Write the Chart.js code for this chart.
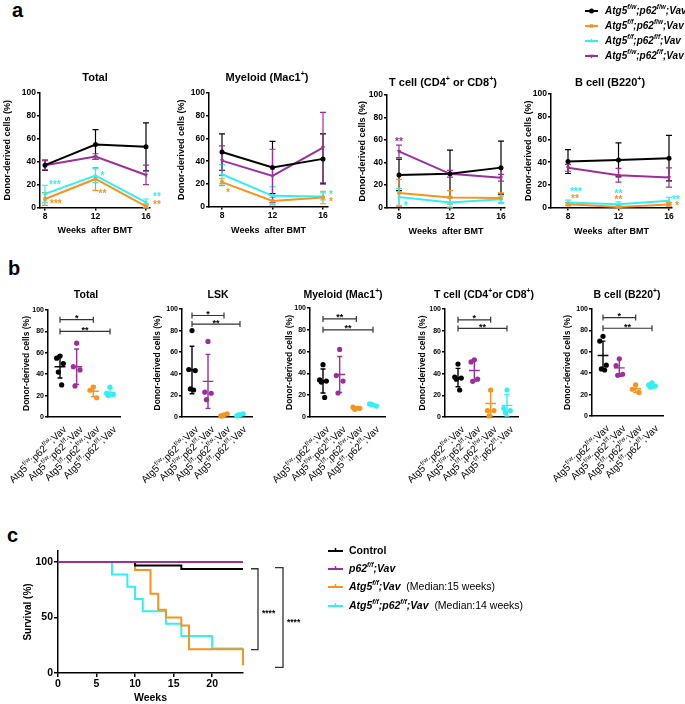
<!DOCTYPE html>
<html>
<head>
<meta charset="utf-8">
<script src="https://cdn.jsdelivr.net/npm/chart.js@4.4.0/dist/chart.umd.min.js"></script>
<style>
  body { margin: 0; background: #fff; }
  #fig { position: relative; width: 685px; height: 704px; overflow: hidden; font-family: 'Liberation Sans', Arial, sans-serif; }
  #fig canvas { position: absolute; }
  .panel { position: absolute; font-weight: bold; font-size: 20px; line-height: 20px; }
</style>
</head>
<body>
<div id="fig">
  <div class="panel" style="left:12px;top:0px">a</div>
  <div class="panel" style="left:8px;top:258px">b</div>
  <div class="panel" style="left:7px;top:525px">c</div>
</div>
<script>
// ---------- panel a : donor chimerism over time (mean, SD) ----------
const weeks = [8, 12, 16];
const aYTicks = [0, 20, 40, 60, 80, 100];

const aTotalCtrl = [37, 55, 53];     const aTotalCtrlSd = [4.5, 13, 21];
const aTotalAtg5 = [7.5, 25, 1];     const aTotalAtg5Sd = [5.5, 10, 2];
const aTotalDko  = [12, 28, 4.5];    const aTotalDkoSd  = [7.5, 6, 3];
const aTotalP62  = [37, 44.5, 28.5]; const aTotalP62Sd  = [4, 2.5, 8.5];

const aMyeCtrl = [48, 34.5, 42];   const aMyeCtrlSd = [16, 23, 22];
const aMyeAtg5 = [21.5, 5, 8];     const aMyeAtg5Sd = [3, 3, 5.5];
const aMyeDko  = [28.5, 9.5, 9];   const aMyeDkoSd  = [8.5, 8, 3];
const aMyeP62  = [40.5, 27, 52];   const aMyeP62Sd  = [13, 23.5, 31];

const aTCtrl = [29, 30, 35.5];     const aTCtrlSd = [14, 21, 23.5];
const aTAtg5 = [13, 9, 8.5];       const aTAtg5Sd = [12, 6, 4.5];
const aTDko  = [9.5, 4.5, 7.5];    const aTDkoSd  = [7.5, 4, 3];
const aTP62  = [50, 30, 26.5];     const aTP62Sd  = [5.5, 3, 3];

const aBCtrl = [40.5, 42, 43.5];   const aBCtrlSd = [10.5, 15, 20];
const aBAtg5 = [3, 0.5, 2.8];      const aBAtg5Sd = [1.5, 1, 1.5];
const aBDko  = [4.5, 3, 6];        const aBDkoSd  = [2, 2, 3];
const aBP62  = [35, 28.5, 26.5];   const aBP62Sd  = [3, 6, 8.5];

// ---------- panel b : individual mice (groups: fw/fw, fw/ff, ff/fw, ff/ff) ----------
const bGroups = ['Atg5^{f/w};p62^{f/w};Vav', 'Atg5^{f/w};p62^{f/f};Vav', 'Atg5^{f/f};p62^{f/w};Vav', 'Atg5^{f/f};p62^{f/f};Vav'];

const bTotalPts  = [[57, 55, 50, 42, 30], [69, 47, 44, 29], [28, 25, 18], [28, 22, 21, 20]];
const bTotalMean = [47, 47, 24, 23];
const bTotalSd   = [10.5, 16.5, 5, 3.5];
const bTotalSig  = [[0, 2, '*', 91], [0, 3, '**', 80]];

const bLskPts  = [[80, 44, 43, 26, 25], [70, 23, 22, 16], [2, 1, 3, 1], [2, 1, 3, 2]];
const bLskMean = [43.5, 33, 1.8, 2];
const bLskSd   = [22, 25, 1, 1];
const bLskSig  = [[0, 2, '*', 94], [0, 3, '**', 86]];

const bMyePts  = [[48, 34, 33, 32, 18], [62, 38, 33, 22], [8, 9, 8, 7], [11, 12, 10, 11.5]];
const bMyeMean = [33, 39, 8, 11];
const bMyeSd   = [11, 16.5, 0.8, 0.8];
const bMyeSig  = [[0, 2, '**', 90], [0, 3, '**', 80]];

const bTPts  = [[49, 37, 36, 35, 25], [53, 51, 35, 33], [25, 6, 6, 1], [25, 8, 6, 4]];
const bTMean = [36.5, 43, 12.5, 10.8];
const bTSd   = [8.5, 10, 11.5, 10];
const bTSig  = [[0, 2, '*', 90], [0, 3, '**', 82]];

const bBPts  = [[74.5, 70, 47.5, 44, 43], [53.5, 47, 39, 38], [29, 25, 22], [31, 29, 28, 27]];
const bBMean = [56.5, 45, 25.5, 28.5];
const bBSd   = [13.5, 8, 3.5, 2.5];
const bBSig  = [[0, 2, '*', 92], [0, 3, '**', 82]];

// ---------- panel c : survival ----------
const cXTicks = [0, 5, 10, 15, 20];
const cYTicks = [0, 50, 100];
const cCtrlWk = [0, 10, 16, 24];                     const cCtrlSurv = [100, 96.9, 93.8, 93.8];
const cP62Wk  = [0, 24];                             const cP62Surv  = [100, 100];
const cAtg5Wk = [0, 10, 12, 13, 14, 16, 17, 24];     const cAtg5Surv = [100, 92.9, 71.4, 57.1, 50, 42.9, 21.4, 7.1];
const cDkoWk  = [0, 7, 9, 10, 11, 14, 16, 20, 24];   const cDkoSurv  = [100, 88.9, 77.8, 66.7, 55.6, 44.4, 33.3, 22.2, 22.2];

// ---------- styling ----------
const FAM = "'Liberation Sans', Arial, Helvetica, sans-serif";
const COL = { ctrl: '#000000', atg5: '#f7931e', dko: '#33f0f0', p62: '#9b309b' };

Chart.defaults.font.family = FAM;
Chart.defaults.color = '#000';
Chart.defaults.animation = false;

const fig = document.getElementById('fig');

function makeCanvas(left, top, w, h) {
  const c = document.createElement('canvas');
  c.width = Math.round(w);
  c.height = Math.round(h);
  c.style.left = left + 'px';
  c.style.top = top + 'px';
  fig.appendChild(c);
  return c;
}

// text with ^{superscript} parts
function richText(ctx, str, x, y, o) {
  const parts = str.split(/\^\{|\}/);
  const pre = (o.italic ? 'italic ' : '') + (o.bold ? 'bold ' : '');
  const fN = pre + o.size + 'px ' + FAM;
  const fS = pre + (o.size * 0.65).toFixed(1) + 'px ' + FAM;
  let w = 0;
  parts.forEach((p, i) => { ctx.font = i % 2 ? fS : fN; w += ctx.measureText(p).width; });
  let cx = o.align === 'center' ? x - w / 2 : o.align === 'right' ? x - w : x;
  ctx.save();
  ctx.fillStyle = o.color || '#000';
  ctx.textBaseline = 'middle';
  ctx.textAlign = 'left';
  parts.forEach((p, i) => {
    ctx.font = i % 2 ? fS : fN;
    ctx.fillText(p, cx, i % 2 ? y - o.size * 0.35 : y);
    cx += ctx.measureText(p).width;
  });
  ctx.restore();
  return w;
}

// asterisks, y = visual centre of the glyph
function stars(ctx, t, x, y, size, color, align) {
  ctx.save();
  ctx.font = 'bold ' + size + 'px ' + FAM;
  ctx.fillStyle = color;
  ctx.textAlign = align || 'left';
  ctx.textBaseline = 'alphabetic';
  ctx.fillText(t, x, y + size * 0.6);
  ctx.restore();
}

function marker(ctx, style, rot, x, y, r, color) {
  ctx.save();
  ctx.fillStyle = color;
  ctx.strokeStyle = color;
  Chart.helpers.drawPoint(ctx, { pointStyle: style, rotation: rot, radius: r, borderWidth: 0 }, x, y);
  ctx.restore();
}

function yAxis(o) {
  return {
    type: 'linear', min: o.min, max: o.max,
    afterBuildTicks: s => { s.ticks = o.ticks.map(v => ({ value: v })); },
    ticks: { font: { size: o.tickSize, weight: 'bold' }, color: '#000', padding: 1 },
    grid: { display: true, drawOnChartArea: false, drawTicks: true, tickLength: o.tickLen, color: '#000', lineWidth: o.lw },
    border: { display: true, color: '#000', width: o.lw },
    title: { display: true, text: o.title, font: { size: o.titleSize, weight: 'bold', lineHeight: 1.2 }, padding: 0, color: '#000' },
    afterFit: s => { s.width = o.width; }
  };
}

// ---------- panel a ----------
const aLegend = [
  { label: 'Atg5^{f/w};p62^{f/w};Vav', color: COL.ctrl, ps: 'circle', rot: 0 },
  { label: 'Atg5^{f/f};p62^{f/w};Vav', color: COL.atg5, ps: 'rect', rot: 0 },
  { label: 'Atg5^{f/f};p62^{f/f};Vav', color: COL.dko, ps: 'triangle', rot: 0 },
  { label: 'Atg5^{f/w};p62^{f/f};Vav', color: COL.p62, ps: 'triangle', rot: 180 }
];

function drawLegendA(ctx, ox, oy) {
  const rows = [11, 26, 41, 56];
  aLegend.forEach((it, i) => {
    const y = rows[i] - oy;
    ctx.save();
    ctx.strokeStyle = it.color; ctx.lineWidth = 2;
    ctx.beginPath(); ctx.moveTo(585 - ox, y); ctx.lineTo(598 - ox, y); ctx.stroke();
    ctx.restore();
    marker(ctx, it.ps, it.rot, 591.5 - ox, y, 2.5, it.color);
    richText(ctx, it.label, 605 - ox, y, { size: 10, bold: true, italic: true });
  });
}

function weekChart(sp, means, sds, starList, withLegend) {
  const ppw = (sp.x16 - sp.x8) / 8;
  const xmin = 8 - (sp.x8 - sp.left) / ppw;
  const xmax = 16 + (sp.right - sp.x16) / ppw;
  const cl = Math.round(sp.yTitleX - 5.4);
  const pad = Math.min(20, 685 - sp.right);
  const xH = sp.xTitleY - sp.bottom + 5.4;
  const cv = makeCanvas(cl, 0, sp.right + pad - cl, sp.bottom + xH);

  const annot = {
    id: 'annotA',
    beforeDatasetsDraw(chart) {
      const ctx = chart.ctx, ys = chart.scales.y;
      chart.data.datasets.forEach((ds, di) => {
        const meta = chart.getDatasetMeta(di);
        ctx.save();
        ctx.strokeStyle = ds.borderColor; ctx.lineWidth = 1.2;
        ds.sd.forEach((s, i) => {
          const px = meta.data[i].x, m = ds.data[i].y;
          const y1 = ys.getPixelForValue(m + s), y2 = ys.getPixelForValue(Math.max(0, m - s));
          ctx.beginPath();
          ctx.moveTo(px, y1); ctx.lineTo(px, y2);
          ctx.moveTo(px - 3, y1); ctx.lineTo(px + 3, y1);
          ctx.moveTo(px - 3, y2); ctx.lineTo(px + 3, y2);
          ctx.stroke();
        });
        ctx.restore();
      });
    },
    afterDraw(chart) {
      const ctx = chart.ctx;
      starList.forEach(st => {
        const pt = chart.getDatasetMeta(st.s).data[st.i];
        stars(ctx, st.t, pt.x + st.dx, pt.y + st.dy, 10, chart.data.datasets[st.s].borderColor, st.align);
      });
      richText(ctx, sp.title, sp.titleX - cl, sp.titleY, { size: 11, bold: true, align: 'center' });
      if (withLegend) drawLegendA(ctx, cl, 0);
    }
  };

  new Chart(cv, {
    type: 'line',
    data: {
      datasets: aLegend.map((it, k) => ({
        label: it.label,
        data: weeks.map((w, i) => ({ x: w, y: means[k][i] })),
        sd: sds[k],
        borderColor: it.color,
        backgroundColor: it.color,
        borderWidth: 2,
        pointStyle: it.ps,
        pointRotation: it.rot,
        pointRadius: 2.5,
        pointBorderWidth: 0,
        clip: false
      }))
    },
    options: {
      responsive: false,
      events: [],
      layout: { padding: { left: 0, top: sp.top, right: pad, bottom: 0 } },
      plugins: { legend: { display: false }, tooltip: { enabled: false } },
      scales: {
        x: {
          type: 'linear', min: xmin, max: xmax,
          afterBuildTicks: s => { s.ticks = weeks.map(v => ({ value: v })); },
          ticks: { font: { size: 8.5, weight: 'bold' }, color: '#000', padding: 1, maxRotation: 0 },
          grid: { display: true, drawOnChartArea: false, drawTicks: true, tickLength: 3, color: '#000', lineWidth: 1.5 },
          border: { display: true, color: '#000', width: 1.5 },
          title: { display: true, text: 'Weeks  after BMT', font: { size: 9, weight: 'bold', lineHeight: 1.2 }, padding: 0, color: '#000' },
          afterFit: s => { s.height = xH; }
        },
        y: yAxis({ min: 0, max: 100, ticks: aYTicks, tickSize: 8.5, tickLen: 3, lw: 1.5,
                   title: 'Donor-derived cells (%)', titleSize: 9, width: sp.left - cl })
      }
    },
    plugins: [annot]
  });
}

weekChart(
  { left: 40, right: 150, top: 93, bottom: 208, x8: 45, x16: 146, yTitleX: 7, xTitleY: 231, titleX: 95, titleY: 78, title: 'Total' },
  [aTotalCtrl, aTotalAtg5, aTotalDko, aTotalP62], [aTotalCtrlSd, aTotalAtg5Sd, aTotalDkoSd, aTotalP62Sd],
  [{ s: 2, i: 0, t: '***', dx: 4, dy: -12 }, { s: 1, i: 0, t: '***', dx: 5, dy: 2 },
   { s: 2, i: 1, t: '*', dx: 5, dy: -3 }, { s: 1, i: 1, t: '**', dx: 3, dy: 12 },
   { s: 2, i: 2, t: '**', dx: 7, dy: -8 }, { s: 1, i: 2, t: '**', dx: 7, dy: -4 }], false);

weekChart(
  { left: 209, right: 328, top: 93, bottom: 207, x8: 222, x16: 323, yTitleX: 181, xTitleY: 231, titleX: 267, titleY: 78, title: 'Myeloid (Mac1^{+})' },
  [aMyeCtrl, aMyeAtg5, aMyeDko, aMyeP62], [aMyeCtrlSd, aMyeAtg5Sd, aMyeDkoSd, aMyeP62Sd],
  [{ s: 1, i: 0, t: '*', dx: 4, dy: 8 }, { s: 2, i: 2, t: '*', dx: 6, dy: -4 }, { s: 1, i: 2, t: '*', dx: 6, dy: 1 }], false);

weekChart(
  { left: 387, right: 505, top: 95, bottom: 208, x8: 399, x16: 501, yTitleX: 362, xTitleY: 232, titleX: 443, titleY: 83, title: 'T cell (CD4^{+} or CD8^{+})' },
  [aTCtrl, aTAtg5, aTDko, aTP62], [aTCtrlSd, aTAtg5Sd, aTDkoSd, aTP62Sd],
  [{ s: 3, i: 0, t: '**', dx: 0, dy: -12, align: 'center' }, { s: 2, i: 0, t: '*', dx: 5, dy: 6 }], false);

weekChart(
  { left: 551, right: 672, top: 94, bottom: 208, x8: 568, x16: 669, yTitleX: 528, xTitleY: 232, titleX: 610, titleY: 83, title: 'B cell (B220^{+})' },
  [aBCtrl, aBAtg5, aBDko, aBP62], [aBCtrlSd, aBAtg5Sd, aBDkoSd, aBP62Sd],
  [{ s: 2, i: 0, t: '***', dx: 8, dy: -13, align: 'center' }, { s: 1, i: 0, t: '**', dx: 7, dy: -8, align: 'center' },
   { s: 2, i: 1, t: '**', dx: 0, dy: -13, align: 'center' }, { s: 1, i: 1, t: '**', dx: 0, dy: -10, align: 'center' },
   { s: 2, i: 2, t: '**', dx: 3, dy: -4 }, { s: 1, i: 2, t: '*', dx: 6, dy: -1 }], true);

// ---------- panel b ----------
const bColors = [COL.ctrl, COL.p62, COL.atg5, COL.dko];
const jitter = [0, -0.2, 0.2, -0.1, 0.1];

function dotChart(sp, pts, means, sds, sig) {
  const ppc = (sp.cat3 - sp.cat0) / 3;
  const xmin = -(sp.cat0 - sp.left) / ppc;
  const xmax = 3 + (sp.right - sp.cat3) / ppc;
  const extra = 70;   // room on the left for the slanted group labels
  const cl = Math.round(sp.yTitleX - 5.1) - extra;
  const top = 280, H = 500;
  const cv = makeCanvas(cl, top, sp.right + 30 - cl, H - top);

  const annot = {
    id: 'annotB',
    afterDatasetsDraw(chart) {
      const ctx = chart.ctx, xs = chart.scales.x, ys = chart.scales.y;
      means.forEach((m, g) => {
        const cx = xs.getPixelForValue(g);
        const half = xs.getPixelForValue(g + 0.33) - cx;
        const cap = xs.getPixelForValue(g + 0.15) - cx;
        const ym = ys.getPixelForValue(m);
        const y1 = ys.getPixelForValue(m + sds[g]), y2 = ys.getPixelForValue(Math.max(0, m - sds[g]));
        ctx.save();
        ctx.strokeStyle = bColors[g]; ctx.lineWidth = 1.4;
        ctx.beginPath();
        ctx.moveTo(cx - half, ym); ctx.lineTo(cx + half, ym);
        ctx.moveTo(cx, y1); ctx.lineTo(cx, y2);
        ctx.moveTo(cx - cap, y1); ctx.lineTo(cx + cap, y1);
        ctx.moveTo(cx - cap, y2); ctx.lineTo(cx + cap, y2);
        ctx.stroke();
        ctx.restore();
      });
      sig.forEach(([a, b, t, v]) => {
        const xa = xs.getPixelForValue(a), xb = xs.getPixelForValue(b), y = ys.getPixelForValue(v);
        ctx.save();
        ctx.strokeStyle = '#333'; ctx.lineWidth = 1.2;
        ctx.beginPath();
        ctx.moveTo(xa, y); ctx.lineTo(xb, y);
        ctx.moveTo(xa, y - 3); ctx.lineTo(xa, y + 3);
        ctx.moveTo(xb, y - 3); ctx.lineTo(xb, y + 3);
        ctx.stroke();
        ctx.restore();
        stars(ctx, t, (xa + xb) / 2, y - 4, 9, '#000', 'center');
      });
    },
    afterDraw(chart) {
      const ctx = chart.ctx, xs = chart.scales.x;
      const yb = chart.chartArea.bottom;
      bGroups.forEach((lab, g) => {
        const x = xs.getPixelForValue(g);
        ctx.save();
        ctx.translate(x + 5, yb + 11);
        ctx.rotate(-Math.PI / 4);
        richText(ctx, lab, 0, 0, { size: 10, align: 'right' });
        ctx.restore();
      });
      richText(ctx, sp.title, sp.titleX - cl, 295 - top, { size: 10.5, bold: true, align: 'center' });
    }
  };

  new Chart(cv, {
    type: 'scatter',
    data: {
      datasets: pts.map((arr, g) => ({
        data: arr.map((v, j) => ({ x: g + jitter[j % jitter.length], y: v })),
        backgroundColor: bColors[g],
        borderWidth: 0,
        pointRadius: 2.6,
        clip: false
      }))
    },
    options: {
      responsive: false,
      events: [],
      layout: { padding: { left: extra, top: sp.top - top, right: 30, bottom: 0 } },
      plugins: { legend: { display: false }, tooltip: { enabled: false } },
      scales: {
        x: {
          type: 'linear', min: xmin, max: xmax,
          ticks: { display: false },
          grid: { display: false },
          border: { display: true, color: '#000', width: 1.5 },
          afterFit: s => { s.height = H - sp.bottom; }
        },
        y: yAxis({ min: 0, max: 100, ticks: aYTicks, tickSize: 7, tickLen: 3, lw: 1.5,
                   title: 'Donor-derived cells (%)', titleSize: 8.5, width: sp.left - cl - extra })
      }
    },
    plugins: [annot]
  });
}

dotChart({ left: 48, right: 120, top: 310, bottom: 417, cat0: 60, cat3: 110, yTitleX: 27, titleX: 86, title: 'Total' },
  bTotalPts, bTotalMean, bTotalSd, bTotalSig);
dotChart({ left: 182, right: 252, top: 309, bottom: 417, cat0: 192, cat3: 240, yTitleX: 158, titleX: 218, title: 'LSK' },
  bLskPts, bLskMean, bLskSd, bLskSig);
dotChart({ left: 310, right: 385, top: 308, bottom: 417, cat0: 323, cat3: 373, yTitleX: 290, titleX: 343, title: 'Myeloid (Mac1^{+})' },
  bMyePts, bMyeMean, bMyeSd, bMyeSig);
dotChart({ left: 445, right: 518, top: 309, bottom: 417, cat0: 458, cat3: 507, yTitleX: 423, titleX: 484, title: 'T cell (CD4^{+}or CD8^{+})' },
  bTPts, bTMean, bTSd, bTSig);
dotChart({ left: 592, right: 663, top: 309, bottom: 416, cat0: 603, cat3: 652, yTitleX: 568, titleX: 627, title: 'B cell (B220^{+})' },
  bBPts, bBMean, bBSd, bBSig);

// ---------- panel c ----------
const cLegend = [
  { parts: [['Control', 'b']], color: COL.ctrl },
  { parts: [['p62^{f/f};Vav', 'bi']], color: COL.p62 },
  { parts: [['Atg5^{f/f};Vav', 'bi'], ['  (Median:15 weeks)', 'n']], color: COL.atg5 },
  { parts: [['Atg5^{f/f};p62^{f/f};Vav', 'bi'], ['  (Median:14 weeks)', 'n']], color: COL.dko }
];
const cBrackets = [{ top: 94, bottom: 21, dx: 15, tick: 7, text: '****' }, { top: 95, bottom: 5, dx: 40, tick: 8, text: '****' }];

(function survivalChart() {
  const cTop = 480;
  const area = { left: 58, right: 243, top: 551, bottom: 673 };
  const cv = makeCanvas(0, cTop, 685, 704 - cTop);
  const annot = {
    id: 'annotC',
    afterDraw(chart) {
      const ctx = chart.ctx, ys = chart.scales.y, r = chart.chartArea.right;
      cBrackets.forEach(b => {
        const x = r + b.dx, y1 = ys.getPixelForValue(b.top), y2 = ys.getPixelForValue(b.bottom);
        ctx.save();
        ctx.strokeStyle = '#333'; ctx.lineWidth = 1.3;
        ctx.beginPath();
        ctx.moveTo(x - b.tick, y1); ctx.lineTo(x, y1); ctx.lineTo(x, y2); ctx.lineTo(x - b.tick, y2);
        ctx.stroke();
        ctx.restore();
        stars(ctx, b.text, x + 4, (y1 + y2) / 2 + 2, 8.5, '#000', 'left');
      });
      const rows = [551, 569, 587, 606];
      cLegend.forEach((it, i) => {
        const y = rows[i] - cTop;
        ctx.save();
        ctx.strokeStyle = it.color; ctx.lineWidth = 2;
        ctx.beginPath(); ctx.moveTo(328, y); ctx.lineTo(343, y); ctx.stroke();
        ctx.lineWidth = 1.5;
        ctx.beginPath(); ctx.moveTo(335.5, y - 3); ctx.lineTo(335.5, y); ctx.stroke();
        ctx.restore();
        let x = 349;
        it.parts.forEach(([t, st]) => {
          x += richText(ctx, t, x, y, { size: 10.5, bold: st !== 'n', italic: st === 'bi' });
        });
      });
    }
  };
  const line = (wk, sv, col) => ({
    data: wk.map((w, i) => ({ x: w, y: sv[i] })),
    borderColor: col, backgroundColor: col, borderWidth: 2,
    stepped: 'before', pointRadius: 0, fill: false, clip: false
  });
  new Chart(cv, {
    type: 'line',
    data: {
      datasets: [
        line(cP62Wk, cP62Surv, COL.p62),
        line(cCtrlWk, cCtrlSurv, COL.ctrl),
        line(cAtg5Wk, cAtg5Surv, COL.atg5),
        line(cDkoWk, cDkoSurv, COL.dko)
      ]
    },
    options: {
      responsive: false,
      events: [],
      layout: { padding: { left: 22, top: area.top - cTop, right: 685 - area.right, bottom: 0 } },
      plugins: { legend: { display: false }, tooltip: { enabled: false } },
      scales: {
        x: {
          type: 'linear', min: 0, max: 24,
          afterBuildTicks: s => { s.ticks = cXTicks.map(v => ({ value: v })); },
          ticks: { font: { size: 10.5, weight: 'bold' }, color: '#000', padding: 1, maxRotation: 0 },
          grid: { display: true, drawOnChartArea: false, drawTicks: true, tickLength: 4, color: '#000', lineWidth: 1.5 },
          border: { display: true, color: '#000', width: 1.5 },
          title: { display: true, text: 'Weeks', font: { size: 10.5, weight: 'bold', lineHeight: 1.2 }, padding: 0, color: '#000' },
          afterFit: s => { s.height = 704 - area.bottom; }
        },
        y: yAxis({ min: 0, max: 110, ticks: cYTicks, tickSize: 10.5, tickLen: 4, lw: 1.5,
                   title: 'Survival (%)', titleSize: 10, width: area.left - 22 })
      }
    },
    plugins: [annot]
  });
})();
</script>
</body>
</html>
